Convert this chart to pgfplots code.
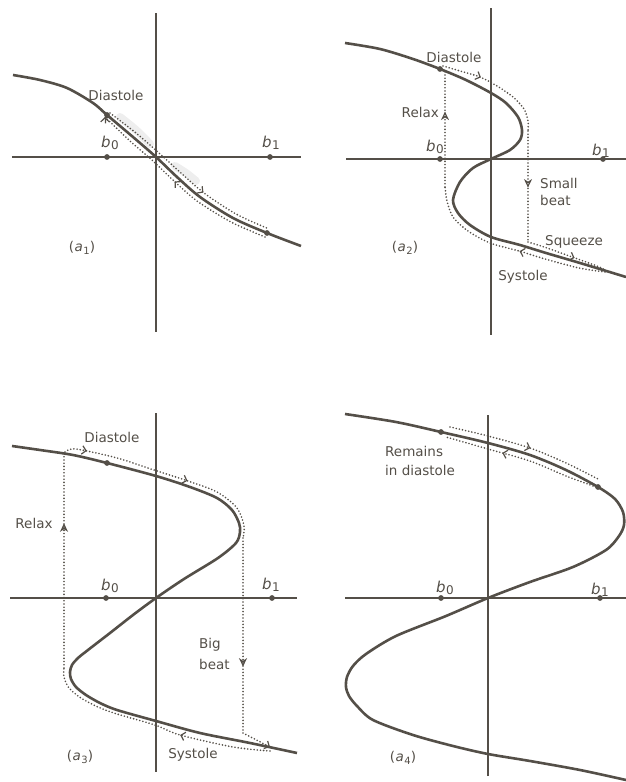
\documentclass[border=0pt]{standalone}
\usepackage{pgfplots}
\pgfplotsset{compat=1.18}
\usepackage{fontspec}
\setmainfont{DejaVu Sans}
\usetikzlibrary{arrows.meta,decorations.markings}

\definecolor{ink}{RGB}{84,79,72}

% arrow heads used along the dotted cycles
\tikzset{
  chev/.tip={Straight Barb[length=4pt,width=8.5pt,line width=1.2pt]},
  vchev/.tip={Stealth[open,length=8.5pt,width=8pt,inset=2.6pt,line width=1.2pt]},
  arrowat/.style 2 args={postaction={decorate},
    decoration={markings, mark=at position #1 with {\arrow[ink]{#2}}}},
  arrowsat/.style n args={3}{postaction={decorate},
    decoration={markings,
      mark=at position #1 with {\arrow[ink]{#3}},
      mark=at position #2 with {\arrow[ink]{#3}}}},
  lbl/.style={text=ink, inner sep=0pt, font=\fontsize{13.5}{16}\selectfont},
}

\newcommand{\bsym}[1]{{\fontsize{15}{16}\selectfont\itshape b\kern0.5pt\raisebox{-2.5pt}{\upshape\fontsize{12}{12}\selectfont #1}}}
\newcommand{\panellabel}[1]{{\fontsize{13.5}{16}\selectfont(\kern0.5pt\textit{a}\kern0.5pt\raisebox{-2.5pt}{\fontsize{10}{10}\selectfont #1})}}

\pgfplotsset{
  panel/.style={x=1pt, y=1pt, anchor=origin, clip=false,
    axis lines=middle, axis line style={ink, line width=1.5pt, -},
    xtick=\empty, ytick=\empty},
  curve/.style={ink, line width=2.6pt, smooth, no marks},
  dotline/.style={ink, line width=1.8pt, line cap=round,
    dash pattern=on 0pt off 3.2pt, no marks},
  dots/.style={only marks, mark=*, mark size=2.6pt,
    mark options={draw=ink, fill=ink, solid}},
  band/.style={gray!13, line width=8pt, line cap=round, smooth, no marks},
}

\begin{document}
\begin{tikzpicture}
\useasboundingbox (0,0) rectangle (626pt,782pt);

% ---------------- (a1): weak tension, smooth response ----------------
\begin{axis}[panel, at={(156pt,625pt)},
  xmin=-144, xmax=145, ymin=-175, ymax=144]
\addplot[band] coordinates {(-36,40) (-20,27) (-6,13)};
\addplot[band] coordinates {(19,-9) (30,-16) (40,-24)};
\addplot[curve] coordinates {
  (-143,82) (-116,77) (-89,69) (-63,54) (-49,42) (-23,20) (0,0)
  (21,-20) (44,-40) (77,-61) (111,-76) (145,-89)};
\addplot[dotline, smooth, arrowat={0.62}{chev}] coordinates {
  (-46,44) (-20,24) (3,4) (25,-16) (48,-36) (80,-57) (113,-72)};
\addplot[dotline, smooth, -{chev}, arrowat={0.53}{chev}] coordinates {
  (109,-80) (75,-65) (41,-44) (18,-24) (-3,-4) (-26,16) (-51,40)};
\addplot[dots] coordinates {(-49,42) (111,-76) (-49,0) (114,0)};
\node[lbl] at (axis cs:-40,62) {Diastole};
\node[lbl] at (axis cs:-46,14) {\bsym{0}};
\node[lbl] at (axis cs:115,14) {\bsym{1}};
\node[lbl] at (axis cs:-74,-91) {\panellabel{1}};
\end{axis}

% ---------------- (a2): small beat ----------------
\begin{axis}[panel, at={(491pt,623pt)},
  xmin=-145, xmax=135, ymin=-176, ymax=151]
\addplot[curve] coordinates {
  (-146,116) (-111,110) (-78,100) (-51,90) (-25,79) (0,66) (15,56)
  (27,42) (31,29) (29,19) (19,9) (0,0) (-18,-9) (-31,-23) (-38,-41)
  (-33,-54) (-21,-66) (0,-78) (29,-86) (55,-94) (89,-104) (135,-118)};
% diastole, then the small beat down to the lower sheet
\addplot[dotline, smooth, arrowat={0.34}{chev}] coordinates {
  (-48,93) (-31,88) (-11,82) (6,73) (22,62) (33,50) (37,38) (37,28)};
\addplot[dotline, arrowat={0.51}{vchev}] coordinates {(37,28) (37,-83)};
% squeeze and systole along the lower sheet
\addplot[dotline, smooth, arrowat={0.6}{chev}] coordinates {
  (37,-83) (56,-89) (81,-98) (106,-107) (114,-111)};
\addplot[dotline, smooth, arrowat={0.45}{chev}] coordinates {
  (114,-113) (88,-109) (54,-100) (28,-92) (-1,-84) (-23,-72)
  (-38,-58) (-44,-42) (-46,-28)};
% relax back to the upper sheet
\addplot[dotline, arrowat={0.65}{vchev}] coordinates {(-46,-28) (-46,88)};
\addplot[dots] coordinates {(-51,90) (-51,0) (112,0)};
\node[lbl] at (axis cs:-37,102) {Diastole};
\node[lbl, anchor=east] at (axis cs:-52,47) {Relax};
\node[lbl, anchor=west] at (axis cs:49,-24) {Small};
\node[lbl, anchor=west] at (axis cs:49,-41) {beat};
\node[lbl, anchor=west] at (axis cs:54,-83) {Squeeze};
\node[lbl] at (axis cs:32,-118) {Systole};
\node[lbl] at (axis cs:-56,12) {\bsym{0}};
\node[lbl] at (axis cs:110,8) {\bsym{1}};
\node[lbl] at (axis cs:-86,-89) {\panellabel{2}};
\end{axis}

% ---------------- (a3): big beat ----------------
\begin{axis}[panel, at={(156pt,184pt)},
  xmin=-146, xmax=141, ymin=-174, ymax=185]
\addplot[curve] coordinates {
  (-144,152) (-116,148) (-83,143) (-49,135) (0,122) (34,111) (61,100)
  (76,88) (83,75) (84,66) (80,55) (62,40) (28,19) (0,0) (-23,-17)
  (-46,-35) (-68,-52) (-78,-60) (-84,-67) (-86,-74) (-85,-81)
  (-80,-89) (-70,-97) (-56,-105) (-39,-112) (0,-123) (44,-135)
  (94,-145) (141,-155)};
% diastole along the upper sheet, then the big beat
\addplot[dotline, smooth, arrowsat={0.105}{0.59}{chev}] coordinates {
  (-91,146) (-80,149) (-39,140) (1,127) (32,117) (61,106) (81,90)
  (88,72) (87,60)};
\addplot[dotline, arrowat={0.66}{vchev}] coordinates {(87,60) (87,-135)};
\addplot[dotline, -{chev}] coordinates {(87,-135) (114,-149)};
% systole and relax
\addplot[dotline, smooth, arrowat={0.39}{chev}] coordinates {
  (114,-153) (77,-149) (24,-137) (-1,-127) (-39,-116) (-58,-109)
  (-75,-100) (-87,-90) (-92,-79) (-92,-70)};
\addplot[dotline, arrowat={0.67}{vchev}] coordinates {(-92,-70) (-92,146)};
\addplot[dots] coordinates {(-49,135) (-50,0) (116,0)};
\node[lbl] at (axis cs:-44,161) {Diastole};
\node[lbl] at (axis cs:-122,75) {Relax};
\node[lbl, anchor=west] at (axis cs:43,-47) {Big};
\node[lbl, anchor=west] at (axis cs:43,-66) {beat};
\node[lbl] at (axis cs:37,-157) {Systole};
\node[lbl] at (axis cs:-46,12) {\bsym{0}};
\node[lbl] at (axis cs:115,13) {\bsym{1}};
\node[lbl] at (axis cs:-76,-159) {\panellabel{3}};
\end{axis}

% ---------------- (a4): stays in diastole ----------------
\begin{axis}[panel, at={(488pt,184pt)},
  xmin=-143, xmax=138, ymin=-178, ymax=183]
\addplot[curve] coordinates {
  (-143,184) (-92,176) (-47,166) (0,155) (42,143) (78,128) (110,111)
  (127,99) (135,86) (136,73) (131,62) (118,48) (85,31) (42,16) (0,0)
  (-42,-18) (-92,-38) (-122,-56) (-135,-68) (-141,-79) (-142,-89)
  (-139,-98) (-131,-108) (-115,-122) (-75,-137) (-35,-148) (0,-156)
  (42,-163) (92,-172) (138,-182)};
\addplot[dotline, smooth, arrowat={0.52}{chev}] coordinates {
  (-38,171) (0,162) (42,150) (78,135) (112,118)};
\addplot[dotline, smooth, arrowat={0.63}{chev}] coordinates {
  (108,111) (78,122) (42,137) (0,149) (-42,161)};
\addplot[dots] coordinates {(-47,166) (110,111) (-47,0) (112,0)};
\node[lbl, anchor=west] at (axis cs:-103,147) {Remains};
\node[lbl, anchor=west] at (axis cs:-103,128) {in diastole};
\node[lbl] at (axis cs:-43,10) {\bsym{0}};
\node[lbl] at (axis cs:112,8) {\bsym{1}};
\node[lbl] at (axis cs:-85,-160) {\panellabel{4}};
\end{axis}
\end{tikzpicture}
\end{document}
